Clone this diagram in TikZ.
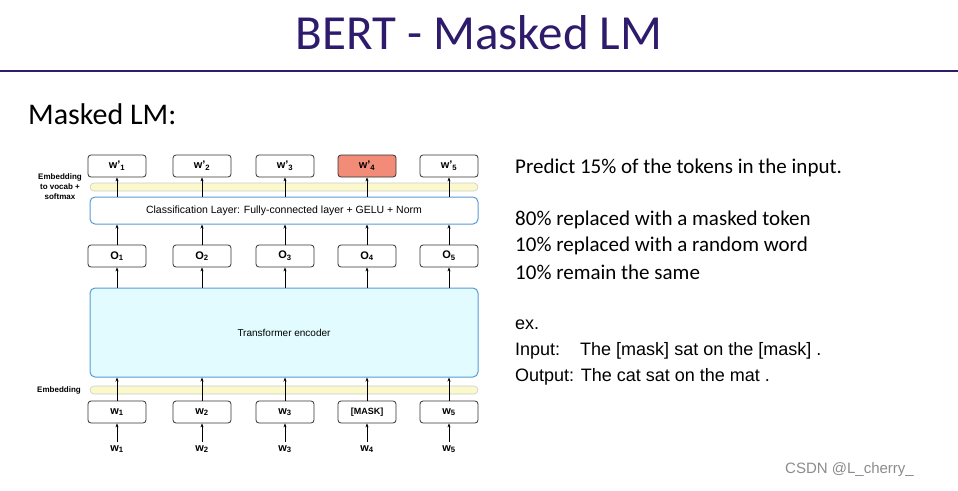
\documentclass[tikz,border=0pt]{standalone}
\usepackage{fontspec}
\setmainfont{Liberation Sans}
\newfontfamily\carl{Carlito}
\usetikzlibrary{arrows.meta}
\definecolor{ttl}{HTML}{2E1B6B}
\definecolor{bb}{HTML}{5B9BD5}
\definecolor{yel}{HTML}{FBF8CC}
\definecolor{tb}{HTML}{E1FBFE}
\definecolor{red4}{HTML}{F28B78}
\begin{document}
\begin{tikzpicture}[x=1pt,y=-1pt,
 tok/.style={draw=black!80,line width=0.8pt,rounded corners=3pt,minimum width=58pt,minimum height=22pt,inner sep=0pt,font=\bfseries\fontsize{11}{11}\selectfont},
 bar/.style={draw=black!20,fill=yel,rounded corners=4pt,line width=0.6pt},
 blk/.style={draw=bb,line width=1pt,rounded corners=5pt},
 arr/.style={-{Stealth[length=4pt,width=3pt]},line width=0.6pt},
 lab/.style={font=\bfseries\fontsize{8}{10}\selectfont,align=center},
 txt/.style={anchor=west,inner sep=0pt}]
\useasboundingbox (0,0) rectangle (958,490);
\fill[white] (0,0) rectangle (958,490);
\node[font=\carl\fontsize{49}{49}\selectfont,text=ttl] (title) at (479,33) {BERT - Masked LM};
\draw[ttl,line width=2.5pt] (0,71) -- (958,71);
\node[txt,font=\carl\fontsize{30}{30}\selectfont] (ml) at (28,114) {Masked LM:};
% bars and blocks
\node[bar,minimum width=388pt,minimum height=8pt,inner sep=0pt] (ybar) at (284,187) {};
\node[blk,minimum width=388pt,minimum height=27pt,inner sep=0pt,font=\fontsize{10.5}{11}\selectfont] (cls) at (284,210.5) {Classification Layer: Fully-connected layer + GELU + Norm};
\node[blk,fill=tb,minimum width=388pt,minimum height=89pt,inner sep=0pt,font=\fontsize{10}{11}\selectfont] (tr) at (284,332.5) {Transformer encoder};
\node[bar,minimum width=388pt,minimum height=8pt,inner sep=0pt] (ebar) at (284,390) {};
\node[lab] (l1) at (60,187) {Embedding\\to vocab +\\softmax};
\node[lab] (l2) at (59,390) {Embedding};
\foreach \i/\x/\inp in {1/117/w\textsubscript{1},2/202/w\textsubscript{2},3/285/w\textsubscript{3},4/367/{\fontsize{9}{9}\selectfont[MASK]},5/449/w\textsubscript{5}}{
  \node[tok] (o\i) at (\x,256) {O\textsubscript{\i}};
  \node[tok] (w\i) at (\x,412) {\inp};
  \node[font=\bfseries\fontsize{11}{11}\selectfont] (b\i) at (\x,449) {w\textsubscript{\i}};
  \draw[arr] (b\i) -- (w\i);
  \draw[arr] (w\i) -- (w\i|-tr.south);
  \draw[arr] (o\i|-tr.north) -- (o\i);
  \draw[arr] (o\i) -- (o\i|-cls.south);
}
\foreach \i/\x in {1/117,2/202,3/285,5/449}{
  \node[tok] (p\i) at (\x,166) {w'\textsubscript{\i}};
}
\node[tok,fill=red4] (p4) at (367,166) {w'\textsubscript{4}};
\foreach \i in {1,...,5}{\draw[arr] (p\i|-cls.north) -- (p\i);}
% right text
\node[txt,font=\carl\fontsize{21}{21}\selectfont] (t1) at (515,168) {Predict 15\% of the tokens in the input.};
\node[txt,font=\carl\fontsize{21}{21}\selectfont] (t2) at (515,220) {80\% replaced with a masked token};
\node[txt,font=\carl\fontsize{21}{21}\selectfont] (t3) at (515,246) {10\% replaced with a random word};
\node[txt,font=\carl\fontsize{21}{21}\selectfont] (t4) at (515,272) {10\% remain the same};
\node[txt,font=\fontsize{18}{18}\selectfont] (t5) at (515,325) {ex.};
\node[txt,font=\fontsize{18}{18}\selectfont] (t6) at (515,351) {Input:\hspace{20pt}The [mask] sat on the [mask] .};
\node[txt,font=\fontsize{18}{18}\selectfont] (t7) at (515,377) {Output: The cat sat on the mat .};
\node[txt,font=\fontsize{15}{15}\selectfont,text=black!45] (wm) at (785,470) {CSDN @L\_cherry\_};
\end{tikzpicture}
\end{document}
